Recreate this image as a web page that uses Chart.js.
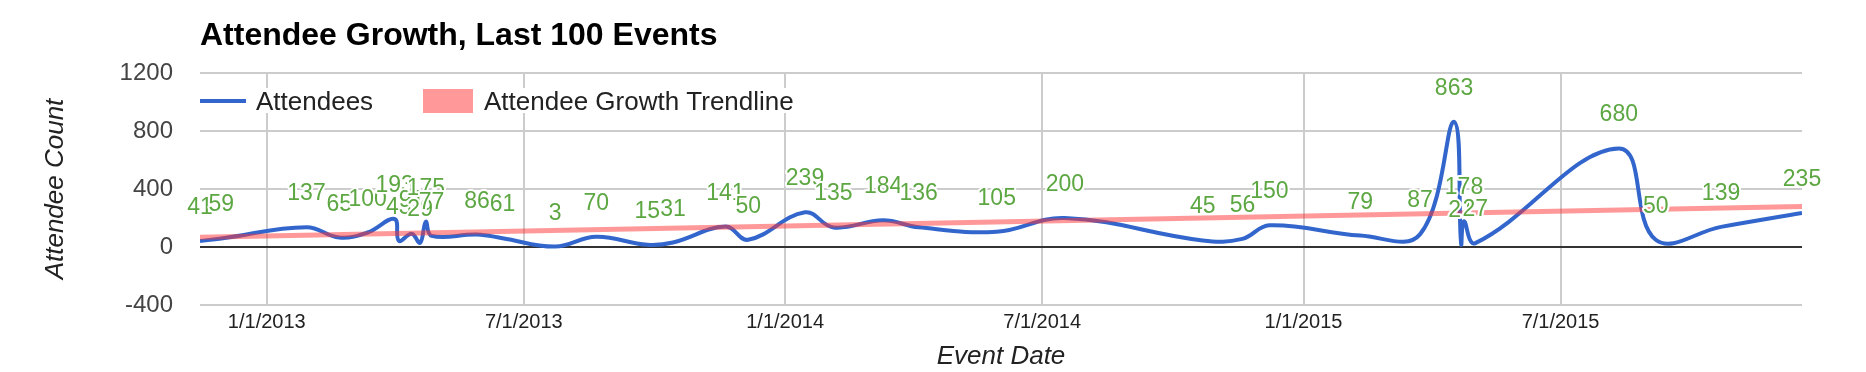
<!DOCTYPE html>
<html>
<head>
<meta charset="utf-8">
<title>Attendee Growth</title>
<script src="https://cdn.jsdelivr.net/npm/chart.js@4.4.1/dist/chart.umd.min.js"></script>
<style>
    html, body { margin: 0; padding: 0; background: #fff; }
    #chart { display: block; }
</style>
</head>
<body>
<canvas id="chart" width="1866" height="372"></canvas>
<script>
// event dates and attendee counts
const eventDates = [
    '2012-11-15', '2012-11-30', '2013-01-29', '2013-02-21', '2013-03-13',
    '2013-04-01', '2013-04-04', '2013-04-13', '2013-04-19', '2013-04-23',
    '2013-04-27', '2013-05-29', '2013-06-16', '2013-07-23', '2013-08-21',
    '2013-09-26', '2013-10-14', '2013-11-20', '2013-12-06', '2014-01-15',
    '2014-02-04', '2014-03-11', '2014-04-05', '2014-05-30', '2014-07-17',
    '2014-10-22', '2014-11-19', '2014-12-08', '2015-02-10', '2015-03-24',
    '2015-04-17', '2015-04-22', '2015-04-24', '2015-05-02', '2015-08-11',
    '2015-09-06', '2015-10-22', '2015-12-18'
];
const attendees = [
    41, 59, 137, 65, 100,
    193, 43, 91, 29, 175,
    77, 86, 61, 3, 70,
    15, 31, 141, 50, 239,
    135, 184, 136, 105, 200,
    45, 56, 150, 79, 87,
    863, 21, 178, 27, 680,
    50, 139, 235
];
// trendline values at the first and last event
const trendValues = [67, 280];
const xTickLabels = ['1/1/2013', '7/1/2013', '1/1/2014', '7/1/2014', '1/1/2015', '7/1/2015'];
const yTicks = [-400, 0, 400, 800, 1200];

const FONT = '"Liberation Sans", Arial, sans-serif';
const BLUE = '#3366cc';
const LABEL_GREEN = '#5da743';

function isoToTime(s) {
    const p = s.split('-').map(Number);
    return Date.UTC(p[0], p[1] - 1, p[2]);
}
function mdyToTime(s) {
    const p = s.split('/').map(Number);
    return Date.UTC(p[2], p[0] - 1, p[1]);
}

const times = eventDates.map(isoToTime);
const points = times.map((t, i) => ({ x: t, y: attendees[i] }));
const trendPoints = [
    { x: times[0], y: trendValues[0] },
    { x: times[times.length - 1], y: trendValues[1] }
];
const tickTimes = xTickLabels.map(mdyToTime);

const overlayPlugin = {
    id: 'overlay',
    afterDatasetsDraw(chart) {
        const ctx = chart.ctx;
        const meta = chart.getDatasetMeta(0);
        ctx.save();
        ctx.font = '23px ' + FONT;
        ctx.textAlign = 'center';
        ctx.textBaseline = 'alphabetic';
        ctx.lineJoin = 'round';
        meta.data.forEach((pt, i) => {
            const text = String(attendees[i]);
            ctx.strokeStyle = '#fff';
            ctx.lineWidth = 4;
            ctx.strokeText(text, pt.x, pt.y - 27);
            ctx.fillStyle = LABEL_GREEN;
            ctx.fillText(text, pt.x, pt.y - 27);
        });
        ctx.restore();
    },
    afterDraw(chart) {
        const ctx = chart.ctx;
        const area = chart.chartArea;
        ctx.save();

        // title
        ctx.fillStyle = '#000';
        ctx.font = 'bold 32px ' + FONT;
        ctx.textAlign = 'left';
        ctx.textBaseline = 'alphabetic';
        ctx.fillText('Attendee Growth, Last 100 Events', area.left, 45);

        // axis titles
        ctx.fillStyle = '#222';
        ctx.font = 'italic 26px ' + FONT;
        ctx.textAlign = 'center';
        ctx.fillText('Event Date', (area.left + area.right) / 2, 364);
        ctx.save();
        ctx.translate(63, (area.top + area.bottom) / 2);
        ctx.rotate(-Math.PI / 2);
        ctx.fillText('Attendee Count', 0, 0);
        ctx.restore();

        // legend
        ctx.font = '26px ' + FONT;
        ctx.textAlign = 'left';
        const t1 = 'Attendees';
        const t2 = 'Attendee Growth Trendline';
        ctx.fillStyle = '#fff';
        ctx.fillRect(254, 88, ctx.measureText(t1).width + 6, 25);
        ctx.fillRect(482, 88, ctx.measureText(t2).width + 4, 25);
        ctx.strokeStyle = BLUE;
        ctx.lineWidth = 4;
        ctx.beginPath();
        ctx.moveTo(200, 101);
        ctx.lineTo(246, 101);
        ctx.stroke();
        ctx.fillStyle = '#ff9999';
        ctx.fillRect(423, 89, 50, 24);
        ctx.fillStyle = '#222';
        ctx.fillText(t1, 256, 110);
        ctx.fillText(t2, 484, 110);

        ctx.restore();
    }
};

document.addEventListener('DOMContentLoaded', () => {
    const ctx = document.getElementById('chart').getContext('2d');
    Chart.defaults.font.family = FONT;

    new Chart(ctx, {
        type: 'line',
        data: {
            datasets: [{
                label: 'Attendees',
                data: points,
                borderColor: BLUE,
                borderWidth: 4,
                tension: 0.4,
                pointRadius: 0,
                fill: false,
                order: 1
            }, {
                label: 'Attendee Growth Trendline',
                data: trendPoints,
                borderColor: 'rgba(255, 51, 51, 0.5)',
                borderWidth: 5,
                tension: 0,
                pointRadius: 0,
                fill: false,
                order: 0
            }]
        },
        options: {
            responsive: false,
            animation: false,
            devicePixelRatio: 1,
            layout: { padding: { top: 73, right: 64, bottom: 0, left: 0 } },
            plugins: {
                legend: { display: false },
                title: { display: false },
                tooltip: { enabled: false }
            },
            scales: {
                x: {
                    type: 'linear',
                    min: times[0],
                    max: times[times.length - 1],
                    border: { display: false },
                    grid: { color: '#cccccc', lineWidth: 2, drawTicks: false },
                    ticks: {
                        color: '#222',
                        font: { size: 20 },
                        padding: 5,
                        maxRotation: 0,
                        autoSkip: false,
                        callback: (value, index) => xTickLabels[index]
                    },
                    afterBuildTicks: scale => {
                        scale.ticks = tickTimes.map(v => ({ value: v }));
                    },
                    afterFit: scale => { scale.height = 67; }
                },
                y: {
                    min: yTicks[0],
                    max: yTicks[yTicks.length - 1],
                    border: { display: false },
                    grid: {
                        color: c => (c.tick && c.tick.value === 0 ? '#333333' : '#cccccc'),
                        lineWidth: 2,
                        drawTicks: false
                    },
                    ticks: {
                        stepSize: yTicks[1] - yTicks[0],
                        color: '#444',
                        font: { size: 24 },
                        padding: 27,
                        callback: value => String(value)
                    },
                    afterFit: scale => { scale.width = 200; }
                }
            }
        },
        plugins: [overlayPlugin]
    });
});
</script>
</body>
</html>
